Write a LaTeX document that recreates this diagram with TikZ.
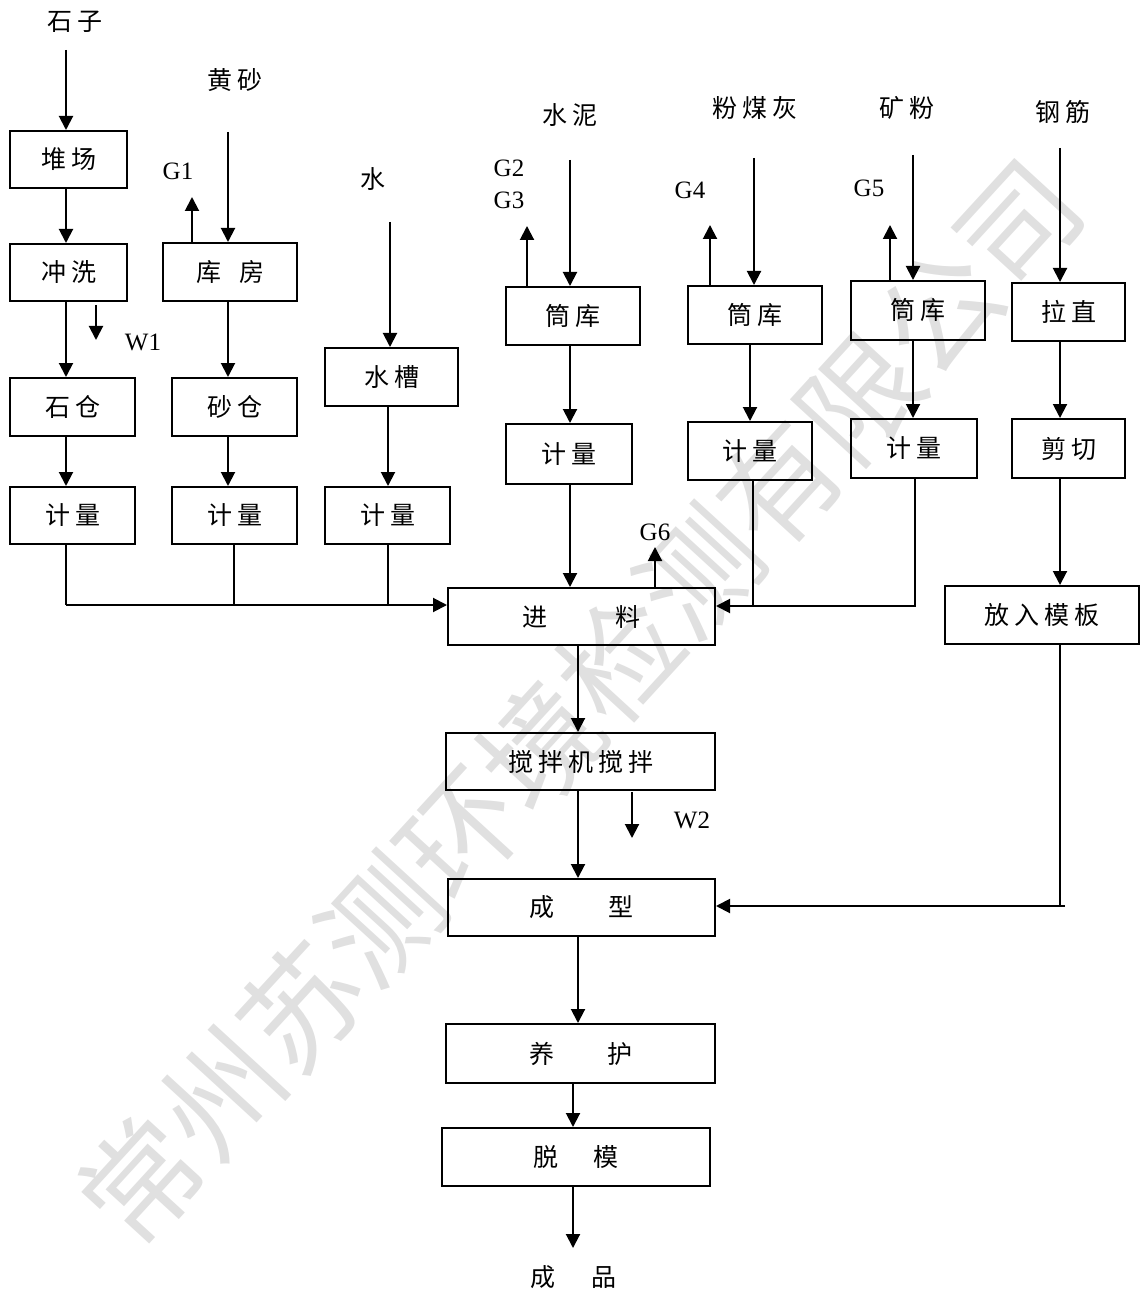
\documentclass[tikz,border=0pt]{standalone}
\usepackage{fontspec}
\setmainfont{Liberation Serif}
\newfontfamily\cjk{Noto Sans CJK SC}
\usetikzlibrary{arrows.meta,fit}
\newcommand\gp{\hspace{2.5pt}}
\newcommand\bx[6]{%
  \node[box, fit={(#2,#3)(#4,#5)}] (#1) {};
  \node[lbl] (#1-t) at (#1.center) {#6};}
\begin{document}
\begin{tikzpicture}[x=0.5pt,y=-0.5pt,
  box/.style={draw, line width=1pt, inner sep=0pt},
  lbl/.style={inner sep=0pt, font=\cjk\fontsize{12.5}{14}\selectfont},
  glbl/.style={inner sep=0pt, font=\fontsize{12.5}{14}\selectfont},
  arr/.style={line width=1pt, -{Triangle[length=7pt,width=7pt]}},
  ln/.style={line width=1pt}]
\useasboundingbox (0,0) rectangle (1140,1294);
% watermark
\node[rotate=47.5, text=black!12, inner sep=0pt, font=\cjk\fontsize{59}{59}\selectfont] (wm) at (580,702) {常州苏测环境检测有限公司};
% boxes
\bx{dui}{10}{131}{127}{188}{堆\gp{}场}
\bx{chong}{10}{244}{127}{301}{冲\gp{}洗}
\bx{shicang}{10}{378}{135}{436}{石\gp{}仓}
\bx{jl1}{10}{487}{135}{544}{计\gp{}量}
\bx{kufang}{163}{243}{297}{301}{库\hspace{9pt}房}
\bx{shacang}{172}{378}{297}{436}{砂\gp{}仓}
\bx{jl2}{172}{487}{297}{544}{计\gp{}量}
\bx{shuicao}{325}{348}{458}{406}{水\gp{}槽}
\bx{jl3}{325}{487}{450}{544}{计\gp{}量}
\bx{tk1}{506}{287}{640}{345}{筒\gp{}库}
\bx{jl4}{506}{424}{632}{484}{计\gp{}量}
\bx{tk2}{688}{286}{822}{344}{筒\gp{}库}
\bx{jl5}{688}{422}{812}{480}{计\gp{}量}
\bx{tk3}{851}{281}{985}{340}{筒\gp{}库}
\bx{jl6}{851}{419}{977}{478}{计\gp{}量}
\bx{lazhi}{1012}{283}{1125}{341}{拉\gp{}直}
\bx{jianqie}{1012}{419}{1125}{478}{剪\gp{}切}
\bx{fangru}{945}{586}{1139}{644}{放\gp{}入\gp{}模\gp{}板}
\bx{jinliao}{448}{588}{715}{645}{进\hspace{34pt}料}
\bx{jiaoban}{446}{733}{715}{790}{搅\gp{}拌\gp{}机\gp{}搅\gp{}拌}
\bx{chengxing}{448}{879}{715}{936}{成\hspace{27pt}型}
\bx{yanghu}{446}{1024}{715}{1083}{养\hspace{26.5pt}护}
\bx{tuomo}{442}{1128}{710}{1186}{脱\hspace{17.5pt}模}
% labels
\node[lbl] (shizi) at (75,22) {石\gp{}子};
\node[lbl] (huangsha) at (235,80) {黄\gp{}砂};
\node[lbl] (shui) at (373,179) {水};
\node[lbl] (shuini) at (570,115) {水\gp{}泥};
\node[lbl] (fenmeihui) at (755,108) {粉\gp{}煤\gp{}灰};
\node[lbl] (kuangfen) at (907,108) {矿\gp{}粉};
\node[lbl] (gangjin) at (1063,112) {钢\gp{}筋};
\node[lbl] (chengpin) at (573,1277) {成\hspace{18pt}品};
\node[glbl] (g1) at (178,171) {G1};
\node[glbl] (g2) at (509,168) {G2};
\node[glbl] (g3) at (509,200) {G3};
\node[glbl] (g4) at (690,190) {G4};
\node[glbl] (g5) at (869,188) {G5};
\node[glbl] (g6) at (655,532) {G6};
\node[glbl] (w1) at (143,342) {W1};
\node[glbl] (w2) at (692,820) {W2};
% column coordinates
\coordinate (s1) at (66,50);
\coordinate (s2) at (228,132);
\coordinate (s3) at (390,222);
\coordinate (s4) at (570,160);
\coordinate (s5) at (754,158);
\coordinate (s6) at (913,155);
\coordinate (s7) at (1060,148);
\coordinate (b2) at (234,0);
\coordinate (b3) at (388,0);
\coordinate (b5) at (753,0);
\coordinate (b5a) at (750,0);
\coordinate (b6) at (915,0);
\coordinate (hl) at (0,605);
\coordinate (hr) at (0,606);
\coordinate (cm) at (578,0);
\coordinate (cn) at (573,0);
\coordinate (g1t) at (192,197);
\coordinate (g2t) at (527,226);
\coordinate (g4t) at (710,225);
\coordinate (g5t) at (890,225);
\coordinate (g6t) at (655,547);
\coordinate (w1s) at (96,305);
\coordinate (w1e) at (96,340);
\coordinate (w2s) at (632,792);
\coordinate (w2e) at (632,838);
\coordinate (fr) at (1065,906);
\coordinate (endp) at (573,1248);
% column 1
\draw[arr] (s1) -- (s1 |- dui.north);
\draw[arr] (s1 |- dui.south) -- (s1 |- chong.north);
\draw[arr] (s1 |- chong.south) -- (s1 |- shicang.north);
\draw[arr] (w1s) -- (w1e);
\draw[arr] (s1 |- shicang.south) -- (s1 |- jl1.north);
\draw[ln] (s1 |- jl1.south) -- (s1 |- hl);
% column 2
\draw[arr] (s2) -- (s2 |- kufang.north);
\draw[arr] (g1t |- kufang.north) -- (g1t);
\draw[arr] (s2 |- kufang.south) -- (s2 |- shacang.north);
\draw[arr] (s2 |- shacang.south) -- (s2 |- jl2.north);
\draw[ln] (b2 |- jl2.south) -- (b2 |- hl);
% column 3
\draw[arr] (s3) -- (s3 |- shuicao.north);
\draw[arr] (b3 |- shuicao.south) -- (b3 |- jl3.north);
\draw[ln] (b3 |- jl3.south) -- (b3 |- hl);
\draw[arr] (s1 |- hl) -- (jinliao.west |- hl);
% cement
\draw[arr] (s4) -- (s4 |- tk1.north);
\draw[arr] (g2t |- tk1.north) -- (g2t);
\draw[arr] (s4 |- tk1.south) -- (s4 |- jl4.north);
\draw[arr] (s4 |- jl4.south) -- (s4 |- jinliao.north);
\draw[arr] (g6t |- jinliao.north) -- (g6t);
% fly ash
\draw[arr] (s5) -- (s5 |- tk2.north);
\draw[arr] (g4t |- tk2.north) -- (g4t);
\draw[arr] (b5a |- tk2.south) -- (b5a |- jl5.north);
\draw[ln] (b5 |- jl5.south) -- (b5 |- hr);
% slag powder
\draw[arr] (s6) -- (s6 |- tk3.north);
\draw[arr] (g5t |- tk3.north) -- (g5t);
\draw[arr] (s6 |- tk3.south) -- (s6 |- jl6.north);
\draw[arr] (b6 |- jl6.south) -- (b6 |- hr) -- (jinliao.east |- hr);
% steel
\draw[arr] (s7) -- (s7 |- lazhi.north);
\draw[arr] (s7 |- lazhi.south) -- (s7 |- jianqie.north);
\draw[arr] (s7 |- jianqie.south) -- (s7 |- fangru.north);
\draw[ln] (s7 |- fangru.south) -- (s7 |- fr);
\draw[arr] (fr) -- (chengxing.east |- fr);
% main line
\draw[arr] (cm |- jinliao.south) -- (cm |- jiaoban.north);
\draw[arr] (w2s) -- (w2e);
\draw[arr] (cm |- jiaoban.south) -- (cm |- chengxing.north);
\draw[arr] (cm |- chengxing.south) -- (cm |- yanghu.north);
\draw[arr] (cn |- yanghu.south) -- (cn |- tuomo.north);
\draw[arr] (cn |- tuomo.south) -- (endp);
\end{tikzpicture}
\end{document}
